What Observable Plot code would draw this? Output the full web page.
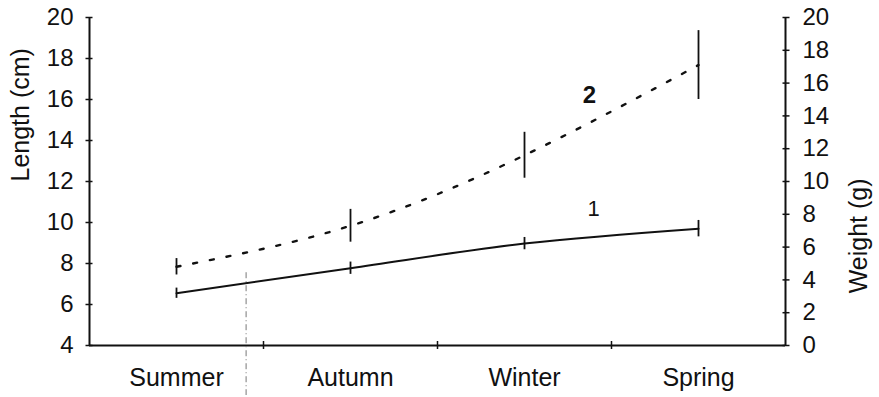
<!DOCTYPE html>
<html><head><meta charset="utf-8">
<script src="https://cdn.jsdelivr.net/npm/d3@7"></script>
<script src="https://cdn.jsdelivr.net/npm/@observablehq/plot@0.6"></script>
<style>body{margin:0;background:#fff;} #chart svg{display:block;}</style>
</head><body><div id="chart"></div>
<script>
// ---- data ----
const seasons = ["Summer", "Autumn", "Winter", "Spring"];
const lengthCm = [6.55, 7.77, 8.97, 9.7];      // series 1 (left axis)
const lengthErr = [0.25, 0.3, 0.3, 0.4];
const weightG = [4.8, 7.3, 11.6, 17.1];        // series 2 (right axis)
const weightErr = [0.5, 1.0, 1.4, 2.1];
const lengthTicks = [4, 6, 8, 10, 12, 14, 16, 18, 20];
const weightTicks = [0, 2, 4, 6, 8, 10, 12, 14, 16, 18, 20];
const seasonBoundaries = [1, 2, 3];
const markerX = [0.9];      // dashed vertical marker (season units)
const markerTop = [7.55];   // in cm
const seriesNames = ["1", "2"];

// weight axis 0–20 g is drawn on the same vertical extent as length 4–20 cm
const wToL = w => 4 + w * 0.8;
const lToW = l => (l - 4) / 0.8;

const lengthData = seasons.map((s, i) => ({season: s, x: i + 0.5, y: lengthCm[i], lo: lengthCm[i] - lengthErr[i], hi: lengthCm[i] + lengthErr[i]}));
const weightData = seasons.map((s, i) => ({season: s, x: i + 0.5, y: wToL(weightG[i]), lo: wToL(weightG[i] - weightErr[i]), hi: wToL(weightG[i] + weightErr[i])}));
const markerData = markerX.map((x, i) => ({x, top: markerTop[i], bottom: 4}));

const ink = "#111";
const font = "'Liberation Sans', Arial, Helvetica, sans-serif";

const chart = Plot.plot({
  width: 879,
  height: 397,
  marginLeft: 89,
  marginRight: 94,
  marginTop: 17,
  marginBottom: 52,
  x: {domain: [0, 4]},
  y: {domain: [4, 20]},
  style: {fontFamily: font, color: ink, background: "#fff", overflow: "visible"},
  marks: [
    // frame: left, right and bottom axis lines
    Plot.ruleX([0, 4], {stroke: ink, strokeWidth: 2}),
    Plot.ruleY([4], {stroke: ink, strokeWidth: 2}),
    // dashed vertical marker
    Plot.ruleX(markerData, {x: "x", y1: "top", y2: "bottom", insetBottom: -50, stroke: "#777", strokeWidth: 1, strokeDasharray: "6,3,1,3"}),
    // left axis (length)
    Plot.axisY(lengthTicks, {anchor: "left", tickSize: 7, dx: 3.5, tickPadding: 12.5, fontSize: 24, label: null, stroke: ink, strokeWidth: 1.5}),
    // right axis (weight)
    Plot.axisY(weightTicks.map(wToL), {anchor: "right", tickSize: 7, dx: -3.5, tickPadding: 13.5, fontSize: 24, label: null, tickFormat: d => String(Math.round(lToW(d))), stroke: ink, strokeWidth: 1.5}),
    // x axis: boundary ticks and season labels
    Plot.axisX(seasonBoundaries, {tickSize: 8, dy: -4, tickFormat: () => "", label: null, stroke: ink, strokeWidth: 1.5}),
    Plot.axisX(seasons.map((s, i) => i + 0.5), {tickSize: 0, tickPadding: 23, fontSize: 25, label: null, tickFormat: d => seasons[Math.round(d - 0.5)]}),
    // axis titles
    Plot.text(["Length (cm)"], {frameAnchor: "left", dx: -69, rotate: -90, fontSize: 25, fill: ink}),
    Plot.text(["Weight (g)"], {frameAnchor: "right", dx: 73, dy: -3, rotate: -90, fontSize: 25, fill: ink}),
    // series 1: length (solid)
    Plot.line(lengthData, {x: "x", y: "y", curve: "monotone-x", stroke: ink, strokeWidth: 2}),
    Plot.ruleX(lengthData, {x: "x", y1: "lo", y2: "hi", stroke: ink, strokeWidth: 1.8}),
    // series 2: weight (dotted)
    Plot.line(weightData, {x: "x", y: "y", curve: "natural", stroke: ink, strokeWidth: 2.4, strokeDasharray: "4,13"}),
    Plot.ruleX(weightData, {x: "x", y1: "lo", y2: "hi", stroke: ink, strokeWidth: 1.8}),
    // series labels, placed relative to the Spring point
    Plot.text([lengthData[3]], {x: "x", y: "y", text: () => seriesNames[0], dx: -105, dy: -20, fontSize: 22, fill: ink}),
    Plot.text([weightData[3]], {x: "x", y: "y", text: () => seriesNames[1], dx: -109, dy: 30, fontSize: 24, fontWeight: "bold", fill: ink})
  ]
});
document.getElementById("chart").appendChild(chart);
</script>
</body></html>
